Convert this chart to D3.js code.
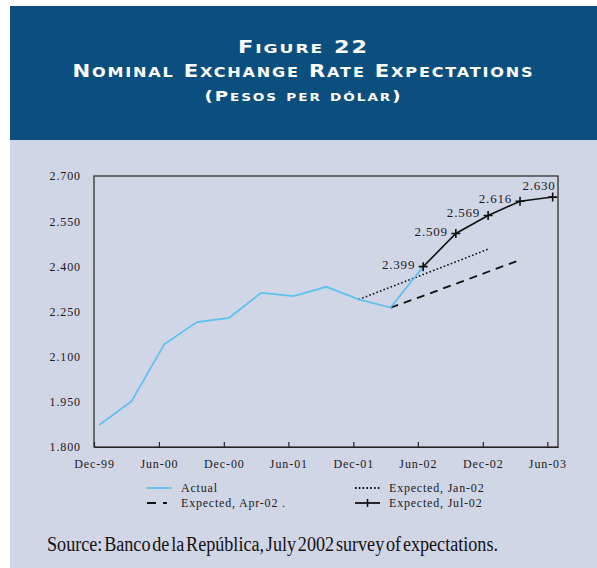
<!DOCTYPE html>
<html>
<head>
<meta charset="utf-8">
<script src="https://cdn.jsdelivr.net/npm/d3@7"></script>
<style>
  body { margin: 0; background: #ffffff; }
  svg text { font-family: "Liberation Serif", "Times New Roman", serif; }
</style>
</head>
<body>
<div id="chart"></div>
<script>
// quarterly observation dates (mid-month of the quarter end)
const quarters = ["1999-12-16", "2000-03-16", "2000-06-16", "2000-09-16", "2000-12-16",
  "2001-03-16", "2001-06-16", "2001-09-16", "2001-12-16", "2002-03-16", "2002-06-16",
  "2002-09-16", "2002-12-16", "2003-03-16", "2003-06-16"];

// values in thousands of pesos per dollar
const actual = [1.873, 1.952, 2.141, 2.215, 2.229, 2.312, 2.301, 2.332, 2.290, 2.263, 2.399];
const expJan02 = [2.290, 2.331, 2.373, 2.415, 2.457];   // starts Dec-01
const expApr02 = [2.263, 2.302, 2.342, 2.382, 2.421];   // starts Mar-02
const expJul02 = [2.399, 2.509, 2.569, 2.616, 2.630];   // starts Jun-02

const yTicks = [1.800, 1.950, 2.100, 2.250, 2.400, 2.550, 2.700];
const xTicks = ["1999-12-01", "2000-06-01", "2000-12-01", "2001-06-01", "2001-12-01",
  "2002-06-01", "2002-12-01", "2003-06-01"];

const W = 597, H = 568;
const plot = { left: 94, right: 558, top: 176, bottom: 447 };

const parse = d3.timeParse("%Y-%m-%d");

const svg = d3.select("#chart")
  .append("svg")
  .attr("width", W)
  .attr("height", H);

// header and panel backgrounds
svg.append("rect").attr("x", 10).attr("y", 6).attr("width", W - 10).attr("height", 134)
  .attr("fill", "#0b4f7e");
svg.append("rect").attr("x", 10).attr("y", 140).attr("width", W - 10).attr("height", H - 140)
  .attr("fill", "#d1d6e6");

// titles, drawn as small caps by hand (lowercase runs -> smaller capitals)
const cx = (10 + W) / 2;
const titles = [
  { t: "Figure 22", y: 53, big: 17, small: 13, len: 131 },
  { t: "Nominal Exchange Rate Expectations", y: 77, big: 17.5, small: 13.3, len: 462 },
  { t: "(Pesos per dólar)", y: 101, big: 14, small: 10.5, len: 198 }
];
titles.forEach(function (d) {
  const txt = svg.append("text")
    .attr("x", cx)
    .attr("y", d.y)
    .attr("text-anchor", "middle")
    .attr("textLength", d.len)
    .attr("lengthAdjust", "spacingAndGlyphs")
    .style("font-family", "'DejaVu Sans', sans-serif")
    .style("font-weight", "600")
    .style("letter-spacing", "1.5px")
    .attr("fill", "#ffffff");
  const runs = d.t.match(/[a-zà-ÿ]+|[^a-zà-ÿ]+/g);
  runs.forEach(function (r) {
    const lower = /[a-zà-ÿ]/.test(r);
    txt.append("tspan")
      .style("font-size", (lower ? d.small : d.big) + "px")
      .text(r.toUpperCase());
  });
});

// scales
const x = d3.scaleTime()
  .domain([parse("1999-12-01"), parse("2003-07-01")])
  .range([plot.left, plot.right]);
const y = d3.scaleLinear()
  .domain([1.8, 2.7])
  .range([plot.bottom, plot.top]);

// frame
svg.append("rect")
  .attr("x", plot.left).attr("y", plot.top)
  .attr("width", plot.right - plot.left).attr("height", plot.bottom - plot.top)
  .attr("fill", "none").attr("stroke", "#222").attr("stroke-width", 1.2);

// Y axis (labels only)
const yAxis = svg.append("g")
  .attr("transform", "translate(" + plot.left + ",0)")
  .call(d3.axisLeft(y).tickValues(yTicks).tickFormat(d3.format(".3f")).tickSize(0).tickPadding(13));
yAxis.select(".domain").remove();
yAxis.selectAll("text")
  .style("font-family", "'Liberation Serif', serif")
  .style("font-size", "12px")
  .style("letter-spacing", "0.9px")
  .attr("fill", "#1a1a1a");

// X axis with inward ticks
const xAxis = svg.append("g")
  .attr("transform", "translate(0," + plot.bottom + ")")
  .call(d3.axisBottom(x)
    .tickValues(xTicks.map(parse))
    .tickFormat(d3.timeFormat("%b-%y"))
    .tickSizeInner(-5)
    .tickSizeOuter(0)
    .tickPadding(12));
xAxis.select(".domain").attr("stroke", "#222").attr("stroke-width", 1.2);
xAxis.selectAll("line").attr("stroke", "#222").attr("stroke-width", 1.2);
xAxis.selectAll("text")
  .style("font-family", "'Liberation Serif', serif")
  .style("font-size", "12px")
  .style("letter-spacing", "0.9px")
  .attr("fill", "#1a1a1a");

// build series
function series(values, start) {
  return values.map((v, i) => ({ date: parse(quarters[start + i]), value: v }));
}
const line = d3.line().x(d => x(d.date)).y(d => y(d.value));

const actualData = series(actual, 0);
const janData = series(expJan02, 8);
const aprData = series(expApr02, 9);
const julData = series(expJul02, 10);

svg.append("path").datum(janData).attr("d", line)
  .attr("fill", "none").attr("stroke", "#111").attr("stroke-width", 1.6)
  .attr("stroke-dasharray", "1.6,2.2");
svg.append("path").datum(aprData).attr("d", line)
  .attr("fill", "none").attr("stroke", "#111").attr("stroke-width", 1.8)
  .attr("stroke-dasharray", "8,6");
svg.append("path").datum(actualData).attr("d", line)
  .attr("fill", "none").attr("stroke", "#5fc1ee").attr("stroke-width", 1.8);
svg.append("path").datum(julData).attr("d", line)
  .attr("fill", "none").attr("stroke", "#111").attr("stroke-width", 1.6);

// plus markers
svg.selectAll(".mk")
  .data(julData)
  .enter()
  .append("path")
  .attr("d", d => {
    const px = x(d.date), py = y(d.value), s = 4.5;
    return "M" + (px - s) + "," + py + "H" + (px + s) + "M" + px + "," + (py - s) + "V" + (py + s);
  })
  .attr("stroke", "#111").attr("stroke-width", 1.6);

// value labels
svg.selectAll(".lbl")
  .data(julData)
  .enter()
  .append("text")
  .attr("x", (d, i) => i === julData.length - 1 ? x(d.date) + 3 : x(d.date) - 8)
  .attr("y", (d, i) => i === julData.length - 1 ? y(d.value) - 7 : y(d.value) + 2)
  .attr("text-anchor", "end")
  .style("font-size", "13px")
  .style("letter-spacing", "0.8px")
  .attr("fill", "#1a1a1a")
  .text(d => d3.format(".3f")(d.value));

// legend
const legend = [
  { label: "Actual", col: 0, row: 0, stroke: "#5fc1ee", dash: null },
  { label: "Expected, Jan-02", col: 1, row: 0, stroke: "#111", dash: "1.6,2.2" },
  { label: "Expected, Apr-02 .", col: 0, row: 1, stroke: "#111", dash: "9,7,4,100" },
  { label: "Expected, Jul-02", col: 1, row: 1, stroke: "#111", dash: null, marker: true }
];
const colX = [147, 355];
const rowY = [488, 503];
const lg = svg.selectAll(".lg").data(legend).enter().append("g")
  .attr("transform", d => "translate(" + colX[d.col] + "," + rowY[d.row] + ")");
lg.append("line")
  .attr("x1", 0).attr("x2", 25).attr("y1", 0).attr("y2", 0)
  .attr("stroke", d => d.stroke)
  .attr("stroke-width", 1.8)
  .attr("stroke-dasharray", d => d.dash);
lg.filter(d => d.marker).append("path")
  .attr("d", "M12.5,-4V4").attr("stroke", "#111").attr("stroke-width", 1.6);
lg.append("text")
  .attr("x", 34)
  .attr("y", 4)
  .style("font-size", "12px")
  .style("letter-spacing", "0.8px")
  .attr("fill", "#1a1a1a")
  .text(d => d.label);

// source note
svg.append("text")
  .attr("x", 47)
  .attr("y", 551)
  .attr("textLength", 451)
  .attr("lengthAdjust", "spacingAndGlyphs")
  .style("font-size", "20px")
  .style("word-spacing", "-3px")
  .attr("fill", "#111")
  .text("Source: Banco de la República, July 2002 survey of expectations.");
</script>
</body>
</html>
